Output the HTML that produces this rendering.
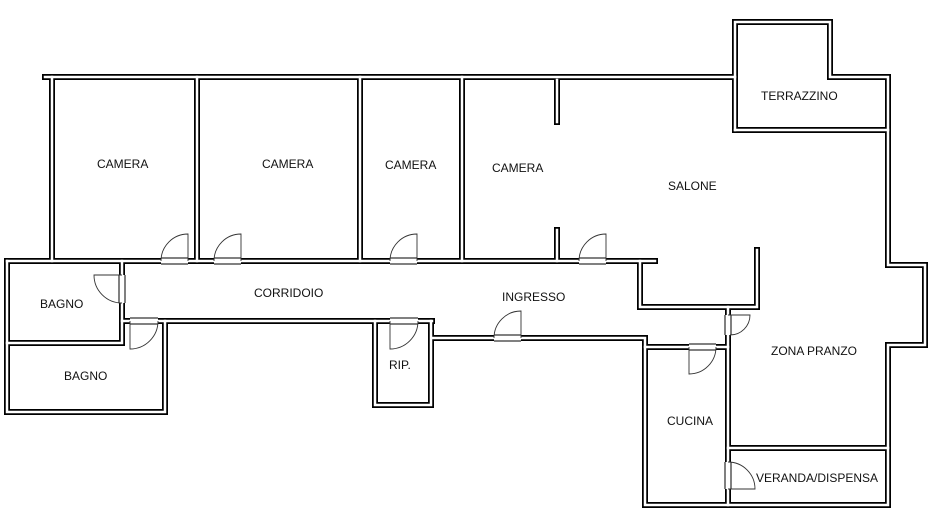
<!DOCTYPE html>
<html><head><meta charset="utf-8"><style>
html,body{margin:0;padding:0;background:#fff}
svg{display:block}
text{font-family:"Liberation Sans",sans-serif;font-size:12px;fill:#111}
</style></head><body>
<svg width="945" height="516" viewBox="0 0 945 516" xmlns="http://www.w3.org/2000/svg">
<defs>
<g id="walls" fill="none" stroke-linejoin="miter" stroke-linecap="square">
<polyline points="45,77 735,77"/>
<polyline points="735,130 735,22 830,22 830,77 888,77 888,265 925,265 925,345 888,345 888,505 645,505 645,338 432,338"/>
<polyline points="735,130 888,130"/>
<polyline points="52,77 52,261"/>
<polyline points="197,77 197,261"/>
<polyline points="360,77 360,261"/>
<polyline points="462,77 462,261"/>
<polyline points="557,80 557,122"/>
<polyline points="557,230 557,261"/>
<polyline points="7,261 655,261"/>
<polyline points="640,261 640,307 757,307 757,250"/>
<polyline points="7,261 7,412 165,412 165,321"/>
<polyline points="122,261 122,343 7,343"/>
<polyline points="122,321 432,321"/>
<polyline points="375,321 375,405 431,405 431,321"/>
<polyline points="645,347 728,347"/>
<polyline points="728,307 728,505"/>
<polyline points="728,448 888,448"/>
</g>
</defs>
<use href="#walls" stroke="#000" stroke-width="6"/>
<use href="#walls" stroke="#fff" stroke-width="2.5"/>
<g fill="#fff" stroke="none">
<rect x="161" y="257" width="27" height="8"/>
<rect x="214" y="257" width="27" height="8"/>
<rect x="390" y="257" width="27" height="8"/>
<rect x="579" y="257" width="27" height="8"/>
<rect x="494" y="334" width="27" height="8"/>
<rect x="118" y="275" width="8" height="28"/>
<rect x="130" y="317" width="28" height="8"/>
<rect x="390" y="317" width="28" height="8"/>
<rect x="689" y="343" width="27" height="8"/>
<rect x="724" y="315" width="8" height="20"/>
<rect x="724" y="462" width="8" height="27"/>
</g>
<g fill="none" stroke="#000" stroke-width="1">
<path d="M161,258H188M161,264H188M214,258H241M214,264H241M390,258H417M390,264H417M579,258H606M579,264H606"/>
<path d="M494,335H521M494,341H521M130,318H158M130,324H158M390,318H418M390,324H418M689,344H716M689,350H716"/>
<path d="M119,275V303M125,275V303M725,315V335M731,315V335M725,462V489M731,462V489"/>
</g>
<g fill="none" stroke="#333" stroke-width="0.9">
<path d="M188,261 V234 A27,27 0 0 0 161,261"/>
<path d="M241,261 V234 A27,27 0 0 0 214,261"/>
<path d="M417,261 V234 A27,27 0 0 0 390,261"/>
<path d="M606,261 V234 A27,27 0 0 0 579,261"/>
<path d="M521,338 V311 A27,27 0 0 0 494,338"/>
<path d="M122,275 H94 A28,28 0 0 0 122,303"/>
<path d="M130,321 V349 A28,28 0 0 0 158,321"/>
<path d="M390,321 V349 A28,28 0 0 0 418,321"/>
<path d="M689,347 V374 A27,27 0 0 0 716,347"/>
<path d="M728,315 H750 A20,20 0 0 1 730,335"/>
<path d="M728,462 A27,27 0 0 1 755,489 H728"/>
</g>
<text x="97" y="168">CAMERA</text>
<text x="262" y="168">CAMERA</text>
<text x="385" y="169">CAMERA</text>
<text x="492" y="172">CAMERA</text>
<text x="668" y="190">SALONE</text>
<text x="761" y="100">TERRAZZINO</text>
<text x="254" y="297">CORRIDOIO</text>
<text x="502" y="301">INGRESSO</text>
<text x="40" y="308">BAGNO</text>
<text x="64" y="380">BAGNO</text>
<text x="389" y="369">RIP.</text>
<text x="771" y="355">ZONA PRANZO</text>
<text x="667" y="425">CUCINA</text>
<text x="756" y="482">VERANDA/DISPENSA</text>
</svg>
</body></html>
